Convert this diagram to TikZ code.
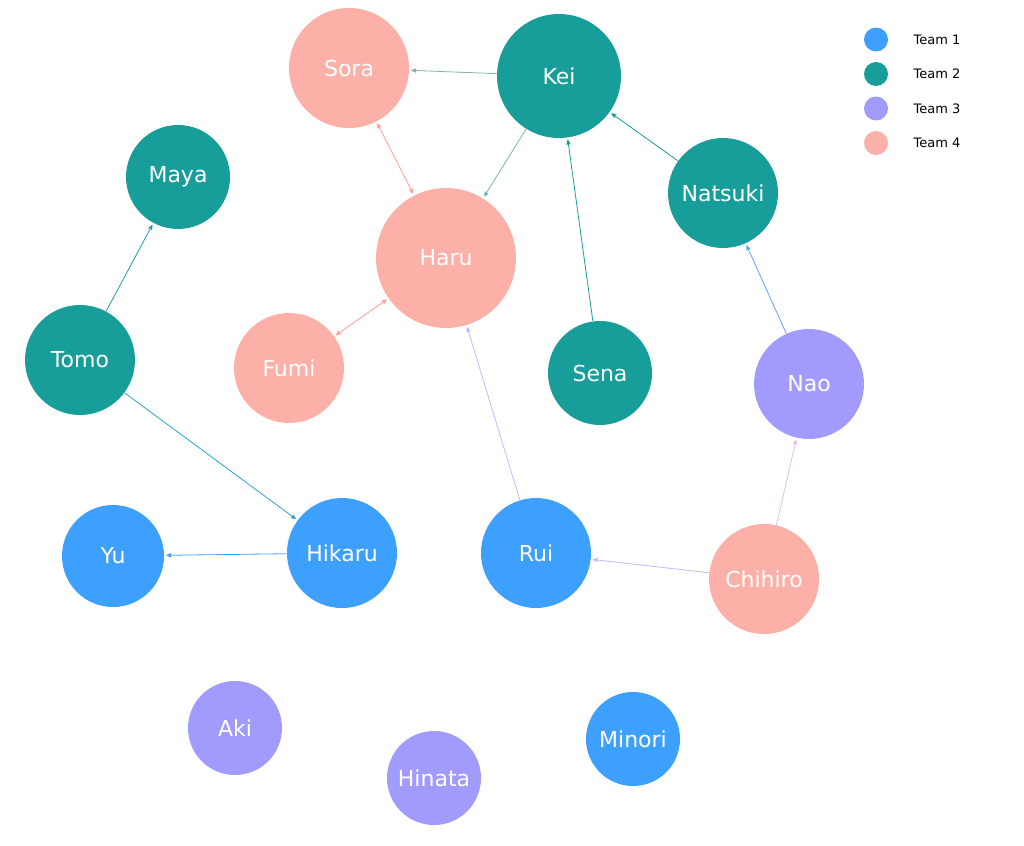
\documentclass[tikz,border=0pt]{standalone}
\usepackage{fontspec}
\setmainfont{DejaVu Sans}
\usetikzlibrary{arrows}
\definecolor{teamA}{RGB}{61,160,255}
\definecolor{teamB}{RGB}{24,158,154}
\definecolor{teamC}{RGB}{162,155,254}
\definecolor{teamD}{RGB}{252,176,168}
\begin{document}
\begin{tikzpicture}[x=1pt,y=-1pt,->,>=stealth',thick]
		\tikzstyle{person}=[circle,draw=none,text=white,font=\fontsize{22}{24}\selectfont,inner sep=0pt]
		\tikzstyle{key}=[circle,draw=none,minimum size=24pt,inner sep=0pt]
		\useasboundingbox (0,0) rectangle (1024,845);
		
		\node[person,fill=teamD,minimum size=120pt] (Sora)    at (349,68)  {Sora};
		\node[person,fill=teamB,minimum size=124pt] (Kei)     at (559,76)  {Kei};
		\node[person,fill=teamB,minimum size=104pt] (Maya)    at (178,177) {Maya};
		\node[person,fill=teamB,minimum size=110pt] (Natsuki) at (723,193) {Natsuki};
		\node[person,fill=teamD,minimum size=140pt] (Haru)    at (446,258) {Haru};
		\node[person,fill=teamB,minimum size=110pt] (Tomo)    at (80,360)  {Tomo};
		\node[person,fill=teamD,minimum size=110pt] (Fumi)    at (289,368) {Fumi};
		\node[person,fill=teamB,minimum size=104pt] (Sena)    at (600,373) {Sena};
		\node[person,fill=teamC,minimum size=110pt] (Nao)     at (809,384) {Nao};
		\node[person,fill=teamA,minimum size=102pt] (Yu)      at (113,556) {Yu};
		\node[person,fill=teamA,minimum size=110pt] (Hikaru)  at (342,553) {Hikaru};
		\node[person,fill=teamA,minimum size=110pt] (Rui)     at (536,553) {Rui};
		\node[person,fill=teamD,minimum size=110pt] (Chihiro) at (764,579) {Chihiro};
		\node[person,fill=teamC,minimum size=94pt]  (Aki)     at (235,728) {Aki};
		\node[person,fill=teamC,minimum size=94pt]  (Hinata)  at (434,778) {Hinata};
		\node[person,fill=teamA,minimum size=94pt]  (Minori)  at (633,739) {Minori};
		
		% legend
		\foreach \n/\c [count=\i] in {1/teamA,2/teamB,3/teamC,4/teamD}{
			\node[key,fill=\c] (key\i) at (876,5+34.5*\i) {};
			\node[right,font=\fontsize{13}{15}\selectfont,xshift=34pt] (keytext\i) at (key\i) {Team \n};
		}
		
		\draw[teamB!55!gray!70,shorten >=2pt] (Kei) -- (Sora);
		\draw[teamB!55!gray!70,shorten >=2pt] (Kei) -- (Haru);
		\draw[<->,teamD!90!red,shorten >=2pt,shorten <=2pt] (Sora) -- (Haru);
		\draw[<->,teamD!90!red,shorten >=2pt,shorten <=2pt] (Fumi) -- (Haru);
		\draw[teamB,shorten >=2pt] (Natsuki) -- (Kei);
		\draw[teamB,shorten >=2pt] (Sena) -- (Kei);
		\draw[teamB!80!teamA,shorten >=2pt] (Tomo) -- (Maya);
		\draw[teamB!45!teamA,shorten >=2pt] (Tomo) -- (Hikaru);
		\draw[teamA,shorten >=2pt] (Hikaru) -- (Yu);
		\draw[teamC!70!white,shorten >=2pt] (Rui) -- (Haru);
		\draw[teamC!70!white,shorten >=2pt] (Chihiro) -- (Rui);
		\draw[teamC!50!teamD!70!white,shorten >=2pt] (Chihiro) -- (Nao);
		\draw[teamA!60!teamC,shorten >=2pt] (Nao) -- (Natsuki);
\end{tikzpicture}
\end{document}
